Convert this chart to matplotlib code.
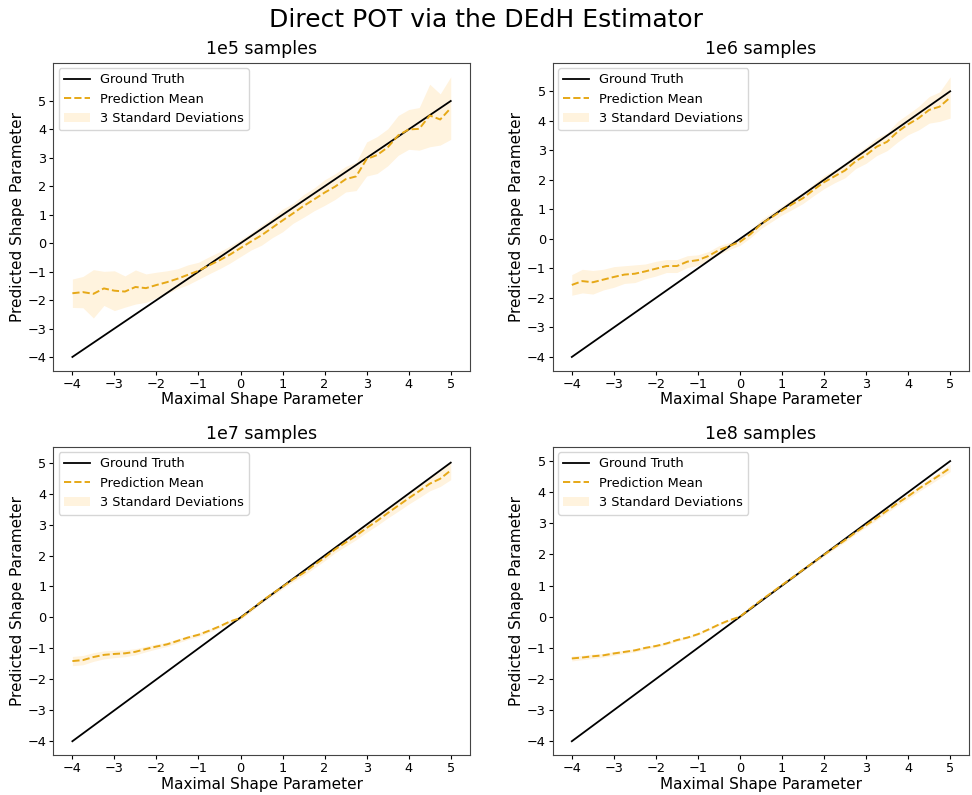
import numpy as np
import matplotlib
matplotlib.use("Agg")
import matplotlib.pyplot as plt

# maximal shape parameter grid
xi = np.arange(-4, 5.01, 0.25)

titles = ["1e5 samples", "1e6 samples", "1e7 samples", "1e8 samples"]

mean_1e5 = [-1.76, -1.72, -1.78, -1.59, -1.67, -1.70, -1.54, -1.58, -1.47, -1.37,
            -1.25, -1.11, -0.97, -0.78, -0.60, -0.40, -0.17, 0.06, 0.28, 0.54,
            0.80, 1.05, 1.31, 1.54, 1.78, 1.99, 2.25, 2.35, 2.96, 3.10,
            3.37, 3.79, 4.00, 4.02, 4.49, 4.35, 4.75]
sd3_1e5 = [0.50, 0.55, 0.85, 0.60, 0.70, 0.55, 0.60, 0.50, 0.45, 0.40,
           0.35, 0.35, 0.30, 0.30, 0.30, 0.30, 0.30, 0.30, 0.35, 0.35,
           0.40, 0.35, 0.40, 0.40, 0.45, 0.45, 0.45, 0.50, 0.60, 0.65,
           0.65, 0.70, 0.70, 0.75, 1.10, 0.90, 1.10]

mean_1e6 = [-1.56, -1.43, -1.47, -1.38, -1.29, -1.21, -1.18, -1.10, -1.01, -0.92,
            -0.92, -0.77, -0.72, -0.58, -0.38, -0.24, -0.10, 0.16, 0.50, 0.73,
            0.96, 1.18, 1.38, 1.66, 1.92, 2.12, 2.32, 2.63, 2.84, 3.12,
            3.29, 3.63, 3.88, 4.09, 4.37, 4.48, 4.79]
sd3_1e6 = [0.35, 0.40, 0.40, 0.35, 0.35, 0.30, 0.30, 0.25, 0.25, 0.22,
           0.22, 0.20, 0.18, 0.15, 0.15, 0.12, 0.12, 0.12, 0.15, 0.15,
           0.15, 0.18, 0.18, 0.20, 0.22, 0.22, 0.25, 0.25, 0.28, 0.30,
           0.30, 0.35, 0.35, 0.40, 0.45, 0.50, 0.70]

mean_1e7 = [-1.41, -1.38, -1.28, -1.21, -1.18, -1.16, -1.11, -1.02, -0.94, -0.87,
            -0.76, -0.65, -0.56, -0.43, -0.29, -0.13, -0.02, 0.25, 0.52, 0.76,
            0.99, 1.23, 1.44, 1.69, 1.93, 2.20, 2.42, 2.64, 2.89, 3.12,
            3.37, 3.61, 3.85, 4.08, 4.32, 4.48, 4.75]
sd3_1e7 = [0.15, 0.15, 0.14, 0.13, 0.12, 0.11, 0.10, 0.09, 0.08, 0.07,
           0.07, 0.06, 0.06, 0.05, 0.05, 0.05, 0.05, 0.06, 0.06, 0.07,
           0.07, 0.08, 0.09, 0.10, 0.10, 0.11, 0.12, 0.13, 0.14, 0.15,
           0.16, 0.18, 0.19, 0.21, 0.23, 0.25, 0.30]

mean_1e8 = [-1.34, -1.31, -1.27, -1.24, -1.18, -1.13, -1.08, -1.00, -0.94, -0.86,
            -0.75, -0.67, -0.56, -0.41, -0.25, -0.11, 0.00, 0.27, 0.53, 0.77,
            1.02, 1.26, 1.51, 1.75, 1.99, 2.23, 2.46, 2.71, 2.94, 3.17,
            3.41, 3.65, 3.87, 4.11, 4.33, 4.55, 4.78]
sd3_1e8 = [0.08, 0.07, 0.07, 0.06, 0.06, 0.05, 0.05, 0.05, 0.04, 0.04,
           0.04, 0.03, 0.03, 0.03, 0.03, 0.03, 0.03, 0.03, 0.03, 0.03,
           0.04, 0.04, 0.04, 0.05, 0.05, 0.05, 0.06, 0.06, 0.06, 0.07,
           0.07, 0.08, 0.08, 0.09, 0.10, 0.10, 0.12]

means = [mean_1e5, mean_1e6, mean_1e7, mean_1e8]
sds = [sd3_1e5, sd3_1e6, sd3_1e7, sd3_1e8]

fig, axes = plt.subplots(2, 2, figsize=(9.72, 7.95), dpi=100)
fig.subplots_adjust(left=0.055, right=0.997, top=0.921, bottom=0.05,
                    hspace=0.247, wspace=0.2)
fig.suptitle("Direct POT via the DEdH Estimator", fontsize=18, y=0.99)

for ax, title, m, s in zip(axes.flat, titles, means, sds):
    m = np.array(m)
    s = np.array(s)
    ax.plot(xi, xi, color="black", lw=1.3, label="Ground Truth")
    ax.plot(xi, m, "--", color="#e6a817", lw=1.4, label="Prediction Mean")
    ax.fill_between(xi, m - s, m + s, color="orange", alpha=0.13, linewidth=0,
                    label="3 Standard Deviations")
    ax.set_title(title, fontsize=12.5)
    ax.set_xlabel("Maximal Shape Parameter", fontsize=11, labelpad=1)
    ax.set_ylabel("Predicted Shape Parameter", fontsize=11, labelpad=2)
    ax.set_xticks(range(-4, 6))
    ax.set_yticks(range(-4, 6))
    ax.tick_params(labelsize=9.3, length=3, pad=2)
    for sp in ax.spines.values():
        sp.set_color("#444444")
    ax.legend(loc="upper left", fontsize=9.3, borderaxespad=0.4)

fig.savefig("out.png", dpi=100)
